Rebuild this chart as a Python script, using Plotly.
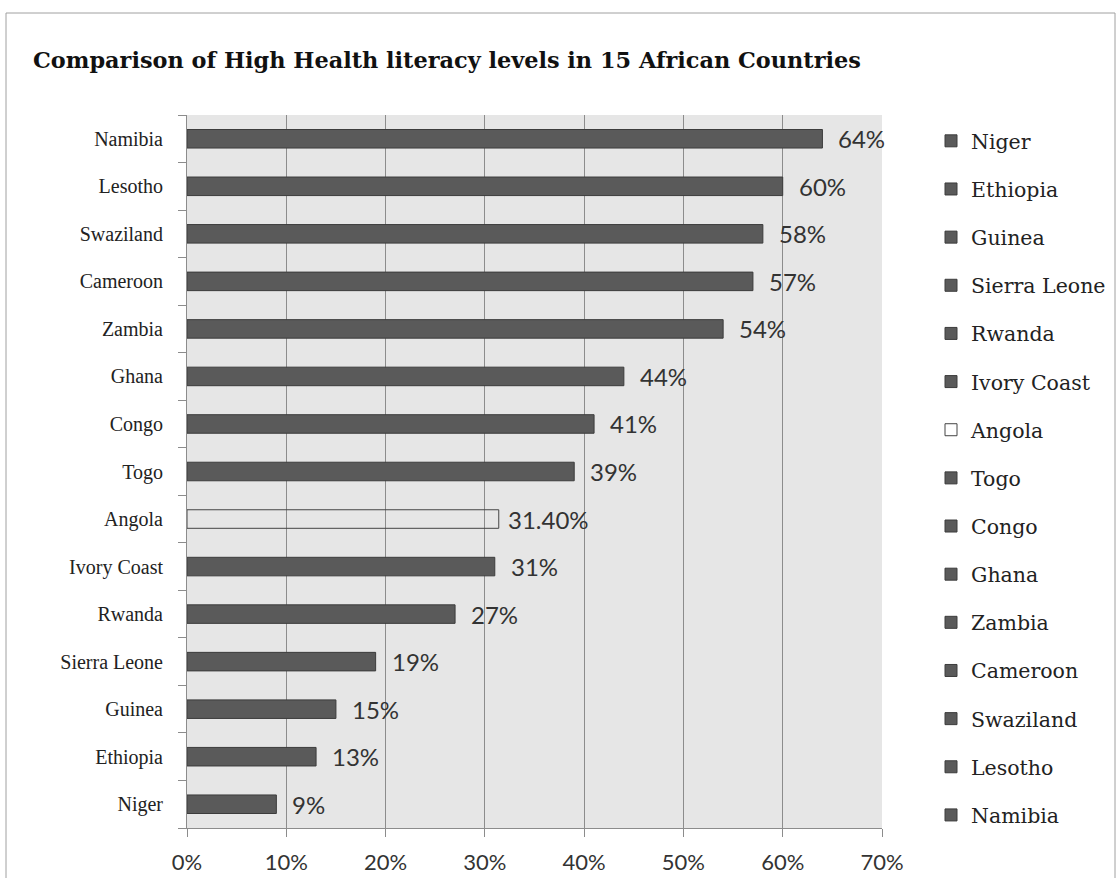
import plotly.graph_objects as go

# Data (bottom to top as drawn on the y axis)
countries = ["Niger", "Ethiopia", "Guinea", "Sierra Leone", "Rwanda", "Ivory Coast",
             "Angola", "Togo", "Congo", "Ghana", "Zambia", "Cameroon", "Swaziland",
             "Lesotho", "Namibia"]
values = [9, 13, 15, 19, 27, 31, 31.4, 39, 41, 44, 54, 57, 58, 60, 64]
labels = ["9%", "13%", "15%", "19%", "27%", "31%", "31.40%", "39%", "41%", "44%",
          "54%", "57%", "58%", "60%", "64%"]
x_ticks = [0, 10, 20, 30, 40, 50, 60, 70]
x_tick_text = ["0%", "10%", "20%", "30%", "40%", "50%", "60%", "70%"]
title = "Comparison of High Health literacy levels in 15 African Countries"

SERIF = "Liberation Serif"
WIDE_SERIF = "DejaVu Serif"
SANS = "Lato"
BAR_FILL = "#5a5a5a"
BAR_LINE = "#3c3c3c"

fig = go.Figure()
for c, v in zip(countries, values):
    hollow = c == "Angola"
    fig.add_trace(go.Bar(
        x=[v], y=[c], orientation="h", name=c, legendgroup=c,
        width=0.39,
        marker=dict(color="rgba(255,255,255,0)" if hollow else BAR_FILL,
                    line=dict(color="#444444" if hollow else BAR_LINE, width=1)),
        hoverinfo="x+y",
    ))

for c, v, t in zip(countries, values, labels):
    fig.add_annotation(x=v, y=c, text=t, showarrow=False, xanchor="left",
                       xshift=7 if c == "Angola" else 14,
                       font=dict(family=SANS, size=24, color="#333333"))

fig.update_layout(
    width=1116, height=878,
    margin=dict(l=187, r=234, t=115, b=50, autoexpand=False),
    paper_bgcolor="white",
    plot_bgcolor="#e6e6e6",
    barmode="overlay",
    title=dict(text="<b>" + title + "</b>", x=33 / 1116, xanchor="left",
               y=1 - 60 / 878, yanchor="middle", yref="container",
               font=dict(family=WIDE_SERIF, size=22.4, color="#111111")),
    xaxis=dict(range=[0, 70], tickvals=x_ticks, ticktext=x_tick_text,
               showgrid=True, gridcolor="#8c8c8c", gridwidth=1,
               showline=True, linecolor="#8c8c8c", linewidth=1,
               ticks="outside", ticklen=8, tickcolor="#8c8c8c",
               ticklabelstandoff=7, zeroline=False, automargin=False,
               tickfont=dict(family=SANS, size=22, color="#333333"), fixedrange=True),
    yaxis=dict(type="category", categoryorder="array", categoryarray=countries,
               showline=True, linecolor="#8c8c8c", linewidth=1,
               ticks="outside", ticklen=8, tickcolor="#8c8c8c", tickson="boundaries",
               ticklabelstandoff=19, showgrid=False, automargin=False,
               tickfont=dict(family=SERIF, size=20, color="#222222"), fixedrange=True),
    legend=dict(x=(940 - 187 - 9) / 695, y=1.0 - 6 / 713, xanchor="left", yanchor="top",
                traceorder="grouped", tracegroupgap=18.5, maxheight=860,
                font=dict(family=WIDE_SERIF, size=20.5, color="#222222"),
                bgcolor="rgba(0,0,0,0)"),
    showlegend=True,
)

# outer chart border
fig.add_shape(type="rect", xref="paper", yref="paper",
              x0=(6 - 187) / 695, x1=(1115 - 187) / 695,
              y0=(50 - 40) / 713 - 1, y1=1 + (115 - 13) / 713,
              line=dict(color="#a0a0a0", width=1), layer="below")

fig.write_html("out.html")
